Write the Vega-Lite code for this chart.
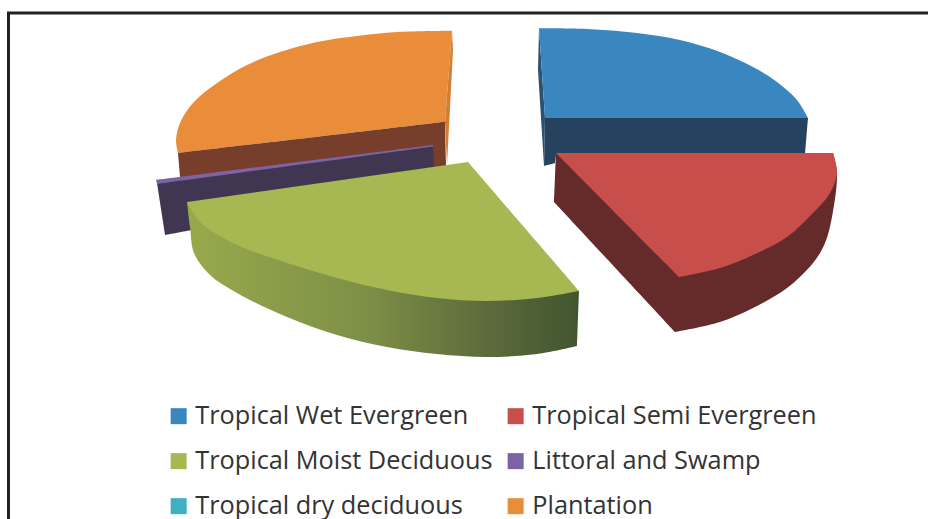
{
"$schema":"https://vega.github.io/schema/vega-lite/v6.json",
"width":928,"height":519,
"autosize":"none",
"padding":0,
"background":"white",
"view":{"stroke":null},
"datasets":{"outlines":[
{"face":"Plantation","i":1,"x":452,"y":30.7},{"face":"Plantation","i":2,"x":452,"y":30.7},{"face":"Plantation","i":3,"x":397,"y":32},{"face":"Plantation","i":4,"x":357,"y":36},{"face":"Plantation","i":5,"x":317,"y":42},{"face":"Plantation","i":6,"x":280,"y":52},{"face":"Plantation","i":7,"x":247,"y":65},{"face":"Plantation","i":8,"x":217,"y":83},{"face":"Plantation","i":9,"x":193,"y":103},{"face":"Plantation","i":10,"x":180,"y":123},{"face":"Plantation","i":11,"x":176,"y":140},{"face":"Plantation","i":12,"x":178,"y":153},{"face":"Plantation","i":13,"x":178,"y":153},{"face":"Plantation","i":14,"x":445,"y":121.7},{"face":"Plantation","i":15,"x":445,"y":121.7},
{"face":"Plantation front","i":1,"x":178,"y":153},{"face":"Plantation front","i":2,"x":178,"y":153},{"face":"Plantation front","i":3,"x":445,"y":121.7},{"face":"Plantation front","i":4,"x":445,"y":121.7},{"face":"Plantation front","i":5,"x":446,"y":167},{"face":"Plantation front","i":6,"x":446,"y":167},{"face":"Plantation front","i":7,"x":180,"y":177},{"face":"Plantation front","i":8,"x":180,"y":177},
{"face":"Plantation end","i":1,"x":452,"y":30.7},{"face":"Plantation end","i":2,"x":452,"y":30.7},{"face":"Plantation end","i":3,"x":453,"y":50},{"face":"Plantation end","i":4,"x":453,"y":50},{"face":"Plantation end","i":5,"x":447,"y":165},{"face":"Plantation end","i":6,"x":447,"y":165},{"face":"Plantation end","i":7,"x":445,"y":121.7},{"face":"Plantation end","i":8,"x":445,"y":121.7},
{"face":"Littoral and Swamp side","i":1,"x":157,"y":183},{"face":"Littoral and Swamp side","i":2,"x":157,"y":183},{"face":"Littoral and Swamp side","i":3,"x":433,"y":146},{"face":"Littoral and Swamp side","i":4,"x":433,"y":146},{"face":"Littoral and Swamp side","i":5,"x":434,"y":168},{"face":"Littoral and Swamp side","i":6,"x":434,"y":168},{"face":"Littoral and Swamp side","i":7,"x":192,"y":230},{"face":"Littoral and Swamp side","i":8,"x":192,"y":230},{"face":"Littoral and Swamp side","i":9,"x":165,"y":235},{"face":"Littoral and Swamp side","i":10,"x":165,"y":235},
{"face":"Littoral and Swamp","i":1,"x":156,"y":180},{"face":"Littoral and Swamp","i":2,"x":156,"y":180},{"face":"Littoral and Swamp","i":3,"x":433,"y":145},{"face":"Littoral and Swamp","i":4,"x":433,"y":145},{"face":"Littoral and Swamp","i":5,"x":433,"y":146.5},{"face":"Littoral and Swamp","i":6,"x":433,"y":146.5},{"face":"Littoral and Swamp","i":7,"x":157,"y":184},{"face":"Littoral and Swamp","i":8,"x":157,"y":184},
{"face":"Tropical Wet Evergreen end","i":1,"x":539,"y":28.3},{"face":"Tropical Wet Evergreen end","i":2,"x":539,"y":28.3},{"face":"Tropical Wet Evergreen end","i":3,"x":538,"y":70},{"face":"Tropical Wet Evergreen end","i":4,"x":538,"y":70},{"face":"Tropical Wet Evergreen end","i":5,"x":544,"y":166},{"face":"Tropical Wet Evergreen end","i":6,"x":544,"y":166},{"face":"Tropical Wet Evergreen end","i":7,"x":545,"y":118},{"face":"Tropical Wet Evergreen end","i":8,"x":545,"y":118},
{"face":"Tropical Wet Evergreen front","i":1,"x":545,"y":118},{"face":"Tropical Wet Evergreen front","i":2,"x":545,"y":118},{"face":"Tropical Wet Evergreen front","i":3,"x":808,"y":118},{"face":"Tropical Wet Evergreen front","i":4,"x":808,"y":118},{"face":"Tropical Wet Evergreen front","i":5,"x":805,"y":155},{"face":"Tropical Wet Evergreen front","i":6,"x":805,"y":155},{"face":"Tropical Wet Evergreen front","i":7,"x":556,"y":155},{"face":"Tropical Wet Evergreen front","i":8,"x":556,"y":155},{"face":"Tropical Wet Evergreen front","i":9,"x":555,"y":163},{"face":"Tropical Wet Evergreen front","i":10,"x":555,"y":163},{"face":"Tropical Wet Evergreen front","i":11,"x":544,"y":166},{"face":"Tropical Wet Evergreen front","i":12,"x":544,"y":166},
{"face":"Tropical Wet Evergreen","i":1,"x":539,"y":28.3},{"face":"Tropical Wet Evergreen","i":2,"x":539,"y":28.3},{"face":"Tropical Wet Evergreen","i":3,"x":587,"y":29},{"face":"Tropical Wet Evergreen","i":4,"x":637,"y":33},{"face":"Tropical Wet Evergreen","i":5,"x":680,"y":40},{"face":"Tropical Wet Evergreen","i":6,"x":720,"y":52},{"face":"Tropical Wet Evergreen","i":7,"x":753,"y":67},{"face":"Tropical Wet Evergreen","i":8,"x":777,"y":82},{"face":"Tropical Wet Evergreen","i":9,"x":797,"y":100},{"face":"Tropical Wet Evergreen","i":10,"x":808,"y":118},{"face":"Tropical Wet Evergreen","i":11,"x":808,"y":118},{"face":"Tropical Wet Evergreen","i":12,"x":545,"y":118},{"face":"Tropical Wet Evergreen","i":13,"x":545,"y":118},
{"face":"Tropical Semi Evergreen side","i":1,"x":556,"y":153},{"face":"Tropical Semi Evergreen side","i":2,"x":556,"y":153},{"face":"Tropical Semi Evergreen side","i":3,"x":554,"y":202},{"face":"Tropical Semi Evergreen side","i":4,"x":554,"y":202},{"face":"Tropical Semi Evergreen side","i":5,"x":675,"y":332},{"face":"Tropical Semi Evergreen side","i":6,"x":675,"y":332},{"face":"Tropical Semi Evergreen side","i":7,"x":720,"y":322},{"face":"Tropical Semi Evergreen side","i":8,"x":753,"y":308},{"face":"Tropical Semi Evergreen side","i":9,"x":787,"y":288},{"face":"Tropical Semi Evergreen side","i":10,"x":813,"y":263},{"face":"Tropical Semi Evergreen side","i":11,"x":825,"y":243},{"face":"Tropical Semi Evergreen side","i":12,"x":832,"y":217},{"face":"Tropical Semi Evergreen side","i":13,"x":837,"y":173},{"face":"Tropical Semi Evergreen side","i":14,"x":833,"y":153},{"face":"Tropical Semi Evergreen side","i":15,"x":833,"y":153},
{"face":"Tropical Semi Evergreen","i":1,"x":556,"y":153},{"face":"Tropical Semi Evergreen","i":2,"x":556,"y":153},{"face":"Tropical Semi Evergreen","i":3,"x":679,"y":277},{"face":"Tropical Semi Evergreen","i":4,"x":679,"y":277},{"face":"Tropical Semi Evergreen","i":5,"x":720,"y":268},{"face":"Tropical Semi Evergreen","i":6,"x":753,"y":255},{"face":"Tropical Semi Evergreen","i":7,"x":787,"y":237},{"face":"Tropical Semi Evergreen","i":8,"x":813,"y":213},{"face":"Tropical Semi Evergreen","i":9,"x":830,"y":193},{"face":"Tropical Semi Evergreen","i":10,"x":837,"y":173},{"face":"Tropical Semi Evergreen","i":11,"x":833,"y":153},{"face":"Tropical Semi Evergreen","i":12,"x":833,"y":153},
{"face":"Tropical Moist Deciduous side","i":1,"x":187,"y":202},{"face":"Tropical Moist Deciduous side","i":2,"x":187,"y":202},{"face":"Tropical Moist Deciduous side","i":3,"x":190,"y":227},{"face":"Tropical Moist Deciduous side","i":4,"x":194,"y":253},{"face":"Tropical Moist Deciduous side","i":5,"x":210,"y":275},{"face":"Tropical Moist Deciduous side","i":6,"x":237,"y":293},{"face":"Tropical Moist Deciduous side","i":7,"x":287,"y":317},{"face":"Tropical Moist Deciduous side","i":8,"x":337,"y":335},{"face":"Tropical Moist Deciduous side","i":9,"x":387,"y":347},{"face":"Tropical Moist Deciduous side","i":10,"x":437,"y":354},{"face":"Tropical Moist Deciduous side","i":11,"x":487,"y":357},{"face":"Tropical Moist Deciduous side","i":12,"x":537,"y":354},{"face":"Tropical Moist Deciduous side","i":13,"x":577,"y":346},{"face":"Tropical Moist Deciduous side","i":14,"x":577,"y":346},{"face":"Tropical Moist Deciduous side","i":15,"x":579,"y":291},{"face":"Tropical Moist Deciduous side","i":16,"x":579,"y":291},
{"face":"Tropical Moist Deciduous","i":1,"x":468,"y":162},{"face":"Tropical Moist Deciduous","i":2,"x":468,"y":162},{"face":"Tropical Moist Deciduous","i":3,"x":579,"y":291},{"face":"Tropical Moist Deciduous","i":4,"x":579,"y":291},{"face":"Tropical Moist Deciduous","i":5,"x":537,"y":298},{"face":"Tropical Moist Deciduous","i":6,"x":487,"y":301},{"face":"Tropical Moist Deciduous","i":7,"x":437,"y":298},{"face":"Tropical Moist Deciduous","i":8,"x":387,"y":290},{"face":"Tropical Moist Deciduous","i":9,"x":337,"y":278},{"face":"Tropical Moist Deciduous","i":10,"x":287,"y":263},{"face":"Tropical Moist Deciduous","i":11,"x":237,"y":245},{"face":"Tropical Moist Deciduous","i":12,"x":210,"y":230},{"face":"Tropical Moist Deciduous","i":13,"x":198,"y":220},{"face":"Tropical Moist Deciduous","i":14,"x":187,"y":202},{"face":"Tropical Moist Deciduous","i":15,"x":187,"y":202}
],"frame":[{"i":1,"x":8.5,"y":519},{"i":2,"x":8.5,"y":13},{"i":3,"x":928,"y":13}]},
"layer":[
{"data":{"name":"frame"},
 "mark":{"type":"line","stroke":"#222222","strokeWidth":3,"strokeJoin":"miter"},
 "encoding":{"x":{"field":"x","type":"quantitative","scale":{"domain":[0,928],"nice":false,"zero":false},"axis":null},"y":{"field":"y","type":"quantitative","scale":{"domain":[519,0],"nice":false,"zero":false},"axis":null},"order":{"field":"i"}}},
{"data":{"name":"outlines"},
 "transform":[{"filter":"datum.face !== 'Tropical Moist Deciduous side' && datum.face !== 'Tropical Moist Deciduous'"}],
 "mark":{"type":"line","strokeWidth":0,"interpolate":"catmull-rom"},
 "encoding":{"x":{"field":"x","type":"quantitative","axis":null},"y":{"field":"y","type":"quantitative","axis":null},"order":{"field":"i"},
 "fill":{"field":"face","type":"nominal","title":null,
  "scale":{"domain":["Tropical Wet Evergreen","Tropical Semi Evergreen","Tropical Moist Deciduous","Littoral and Swamp","Tropical dry deciduous","Plantation","Tropical Wet Evergreen front","Tropical Wet Evergreen end","Tropical Semi Evergreen side","Littoral and Swamp side","Plantation front","Plantation end"],
  "range":["#3A87BF","#C84E4C","#A7B752","#7D63A6","#3FAFC4","#EA8D3A","#25425E","#2C5272","#652B2B","#413651","#773F2B","#D27E35"]},
  "legend":{"orient":"none","legendX":166,"legendY":403.5,"padding":0,"direction":"horizontal","columns":2,"values":["Tropical Wet Evergreen","Tropical Semi Evergreen","Tropical Moist Deciduous","Littoral and Swamp","Tropical dry deciduous","Plantation"],"symbolType":"square","symbolSize":256,"symbolStrokeWidth":0,"labelFont":"Open Sans","labelFontSize":25.3,"labelColor":"#333333","labelLimit":400,"labelOffset":4,"columnPadding":10,"rowPadding":19,"labelBaseline":"middle"}}}},
{"data":{"name":"outlines"},
 "transform":[{"filter":"datum.face === 'Tropical Moist Deciduous side'"}],
 "mark":{"type":"line","strokeWidth":0,"interpolate":"catmull-rom","fill":{"x1":0,"y1":0,"x2":1,"y2":0,"gradient":"linear","stops":[{"offset":0,"color":"#98A94C"},{"offset":0.45,"color":"#7E9047"},{"offset":0.8,"color":"#5A673A"},{"offset":1,"color":"#40552F"}]}},
 "encoding":{"x":{"field":"x","type":"quantitative","axis":null},"y":{"field":"y","type":"quantitative","axis":null},"order":{"field":"i"}}},
{"data":{"name":"outlines"},
 "transform":[{"filter":"datum.face === 'Tropical Moist Deciduous'"}],
 "mark":{"type":"line","strokeWidth":0,"interpolate":"catmull-rom"},
 "encoding":{"x":{"field":"x","type":"quantitative","axis":null},"y":{"field":"y","type":"quantitative","axis":null},"order":{"field":"i"},"fill":{"field":"face","type":"nominal"}}}
]
}
